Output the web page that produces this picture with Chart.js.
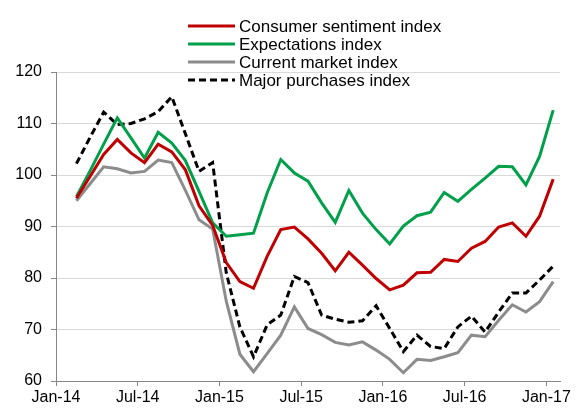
<!DOCTYPE html>
<html>
<head>
<meta charset="utf-8">
<script src="https://cdn.jsdelivr.net/npm/chart.js@4.4.0/dist/chart.umd.min.js"></script>
<style>
  html, body { margin: 0; padding: 0; background: #fff; }
</style>
</head>
<body>
<canvas id="chart" width="581" height="408"></canvas>
<script>
// Monthly readings, Feb-14 .. Jan-17
const months = [
  'Feb-14','Mar-14','Apr-14','May-14','Jun-14','Jul-14','Aug-14','Sep-14','Oct-14','Nov-14','Dec-14','Jan-15',
  'Feb-15','Mar-15','Apr-15','May-15','Jun-15','Jul-15','Aug-15','Sep-15','Oct-15','Nov-15','Dec-15','Jan-16',
  'Feb-16','Mar-16','Apr-16','May-16','Jun-16','Jul-16','Aug-16','Sep-16','Oct-16','Nov-16','Dec-16','Jan-17'
];
const sentiment = [95.5, 99.7, 104, 106.9, 104.3, 102.4, 106, 104.5, 101, 94, 90.2, 83,
  79.3, 78, 84.2, 89.4, 89.9, 87.6, 84.8, 81.4, 85, 82.5, 79.9, 77.7,
  78.6, 81, 81.1, 83.6, 83.2, 85.8, 87.1, 89.9, 90.7, 88.1, 92, 99.2];
const expectations = [95.8, 100.8, 106, 111.1, 107.2, 103.3, 108.3, 106.2, 102.8, 96.8, 90.7, 88.1,
  88.4, 88.7, 96.5, 103, 100.4, 98.8, 94.6, 90.8, 97, 92.6, 89.4, 86.6,
  90.1, 92.1, 92.8, 96.6, 94.9, 97.2, 99.4, 101.7, 101.6, 98.1, 103.6, 112.6];
const currentMarket = [95, 98.3, 101.6, 101.2, 100.4, 100.7, 102.9, 102.4, 97, 91.3, 89.5, 75.5,
  65.2, 61.8, 65.3, 68.9, 74.4, 70.2, 69, 67.5, 67, 67.6, 66, 64.2,
  61.6, 64.2, 64, 64.7, 65.5, 68.9, 68.6, 71.8, 74.8, 73.4, 75.4, 79.3];
const majorPurchases = [102.2, 107.3, 112.2, 109.8, 110, 110.9, 112.3, 115.2, 108, 100.7, 102.4, 81,
  70.5, 64.7, 70.9, 72.8, 80.3, 79.1, 72.8, 72, 71.4, 71.7, 74.6, 70.2,
  65.7, 68.9, 66.7, 66.3, 70.5, 72.6, 69.5, 73.4, 77.1, 77.1, 79.6, 82.3];

// x axis is in months counted from the start of Jan-14
const tickMonths = [0, 6, 12, 18, 24, 30, 36];
const tickLabels = ['Jan-14', 'Jul-14', 'Jan-15', 'Jul-15', 'Jan-16', 'Jul-16', 'Jan-17'];

const FONT = '"Liberation Sans", Arial, sans-serif';
const AXIS = '#868686';

// values sit in the middle of each month
const toPoints = arr => arr.map((v, i) => ({ x: i + 1.5, y: v }));

const legendPlugin = {
  id: 'sideLegend',
  afterDraw(chart) {
    const ctx = chart.ctx;
    ctx.save();
    ctx.font = '17px ' + FONT;
    ctx.textBaseline = 'middle';
    chart.data.datasets.forEach((ds, i) => {
      const y = 26 + i * 18;
      ctx.beginPath();
      ctx.strokeStyle = ds.borderColor;
      ctx.lineWidth = 3;
      ctx.setLineDash(ds.borderDash || []);
      ctx.moveTo(188, y);
      ctx.lineTo(235, y);
      ctx.stroke();
      ctx.setLineDash([]);
      ctx.fillStyle = '#000';
      ctx.fillText(ds.label, 239, y + 1);
    });
    ctx.restore();
  }
};

new Chart(document.getElementById('chart'), {
  type: 'line',
  data: {
    datasets: [
      { label: 'Consumer sentiment index', data: toPoints(sentiment), borderColor: '#C00000' },
      { label: 'Expectations index', data: toPoints(expectations), borderColor: '#00A04B' },
      { label: 'Current market index', data: toPoints(currentMarket), borderColor: '#8C8C8C' },
      { label: 'Major purchases index', data: toPoints(majorPurchases), borderColor: '#000000', borderDash: [7, 4] }
    ]
  },
  options: {
    responsive: false,
    animation: false,
    layout: { padding: { left: 0, right: 21, top: 72, bottom: 0 } },
    elements: {
      line: { borderWidth: 3, tension: 0, fill: false, borderCapStyle: 'butt' },
      point: { radius: 0 }
    },
    plugins: { legend: { display: false }, tooltip: { enabled: false } },
    scales: {
      x: {
        type: 'linear',
        min: 0,
        max: 37,
        afterBuildTicks: s => { s.ticks = tickMonths.map(v => ({ value: v })); },
        afterFit: s => { s.height = 27; },
        grid: { drawOnChartArea: false, tickLength: 5, tickColor: AXIS },
        border: { color: AXIS },
        ticks: {
          autoSkip: false, maxRotation: 0, padding: 2,
          color: '#000', font: { family: FONT, size: 16 },
          callback: v => tickLabels[tickMonths.indexOf(v)]
        }
      },
      y: {
        min: 60,
        max: 120,
        afterFit: s => { s.width = 56; },
        grid: { color: '#D9D9D9', tickLength: 5, tickColor: AXIS },
        border: { color: AXIS },
        ticks: { stepSize: 10, padding: 9, color: '#000', font: { family: FONT, size: 16 } }
      }
    }
  },
  plugins: [legendPlugin]
});
</script>
</body>
</html>
